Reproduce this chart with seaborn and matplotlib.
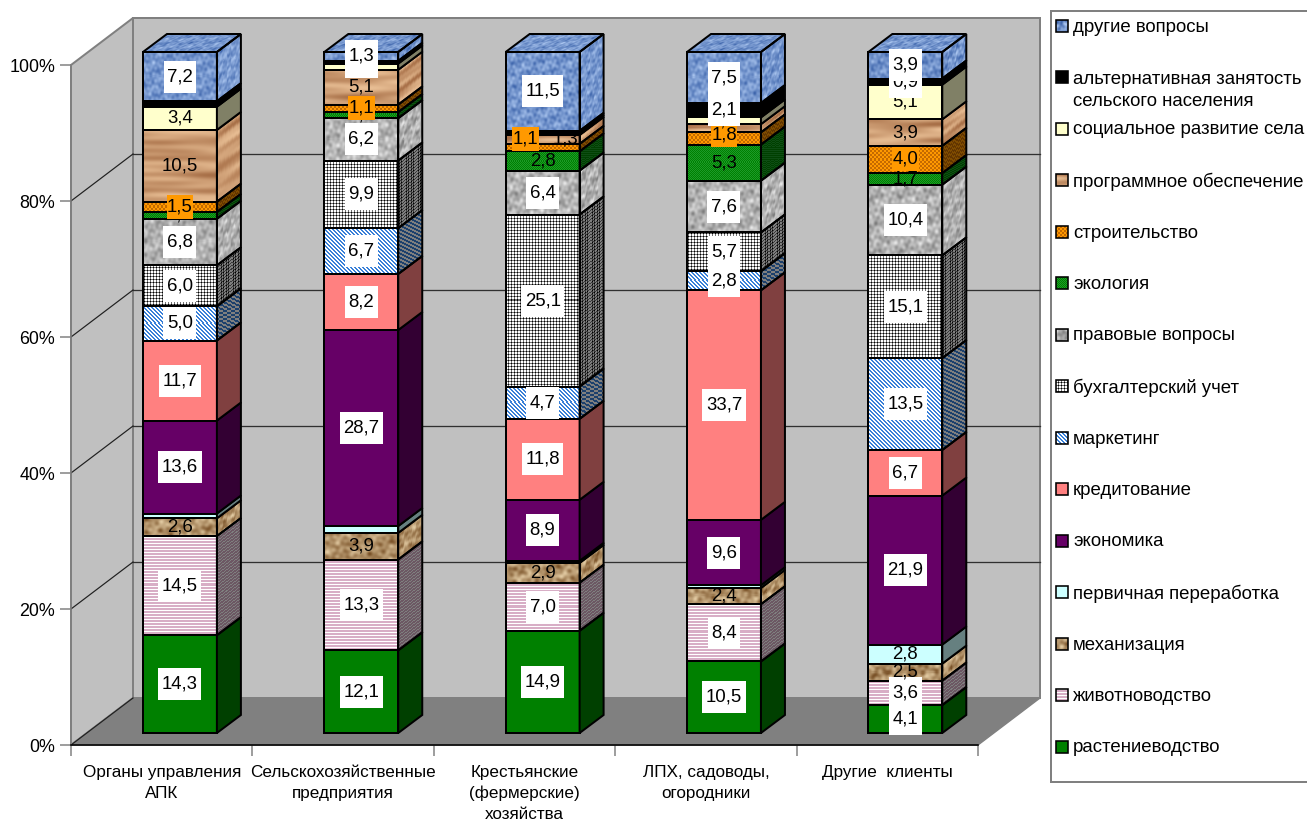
import numpy as np
import pandas as pd
import seaborn as sns
import matplotlib
matplotlib.use("Agg")
import matplotlib.pyplot as plt
from matplotlib.image import AxesImage
from matplotlib.patches import Polygon, Rectangle
from matplotlib.path import Path
from matplotlib.transforms import Affine2D, IdentityTransform

# ---- data (per cent of enquiries by client group) ----
categories = ["Органы управления\nАПК", "Сельскохозяйственные\nпредприятия",
              "Крестьянские\n(фермерские)\nхозяйства", "ЛПХ, садоводы,\nогородники",
              "Другие  клиенты"]
series_names = ["растениеводство", "животноводство", "механизация", "первичная переработка",
                "экономика", "кредитование", "маркетинг", "бухгалтерский учет",
                "правовые вопросы", "экология", "строительство", "программное обеспечение",
                "социальное развитие села", "альтернативная занятость\nсельского населения",
                "другие вопросы"]
crop_farming = [14.3, 12.1, 14.9, 10.5, 4.1]
livestock = [14.5, 13.3, 7.0, 8.4, 3.6]
machinery = [2.6, 3.9, 2.9, 2.4, 2.5]
processing = [0.7, 1.0, 0.3, 0.4, 2.8]
economics = [13.6, 28.7, 8.9, 9.6, 21.9]
lending = [11.7, 8.2, 11.8, 33.7, 6.7]
marketing = [5.0, 6.7, 4.7, 2.8, 13.5]
accounting = [6.0, 9.9, 25.1, 5.7, 15.1]
legal = [6.8, 6.2, 6.4, 7.6, 10.4]
ecology = [1.0, 0.9, 2.8, 5.3, 1.7]
building = [1.5, 1.1, 1.1, 1.8, 4.0]
software = [10.5, 5.1, 1.3, 1.2, 3.9]
social = [3.4, 0.9, 0.3, 1.0, 5.1]
alt_jobs = [0.8, 0.4, 0.3, 2.1, 0.9]
other = [7.2, 1.3, 11.5, 7.5, 3.9]
series_values = [crop_farming, livestock, machinery, processing, economics, lending, marketing,
                 accounting, legal, ecology, building, software, social, alt_jobs, other]
# segments printed without a value: (series index, column index)
unlabelled = {(3, 0), (3, 1), (3, 2), (3, 3), (12, 2), (13, 0), (13, 2)}
# value labels nudged off a crowded segment: pixels right, pixels up
label_shift = {(10, 2): (-17, 9), (11, 2): (23, 0), (10, 3): (0, 3)}

# ---- styling ----
plt.rcParams["font.family"] = ["Liberation Sans", "DejaVu Sans"]
W, H = 1307, 821
GREY = "#808080"
WALL = "#C0C0C0"
EDGE_PX = 2.0
px = 0.72  # points per pixel at 100 dpi


def mottle(h, w, x0, y0, fx, fy):
    """Smooth deterministic surface in 0..1 built from a handful of sine waves."""
    yy, xx = np.mgrid[0:h, 0:w]
    xx = xx + x0
    yy = yy + y0
    out = np.zeros((h, w))
    for k in range(1, 10):
        a = k * 2.399963
        scale = 0.55 + 0.33 * k
        out += np.sin(2 * np.pi * (xx * fx * scale * np.cos(a) + yy * fy * scale * np.sin(a)) + k * 1.7) / scale**0.5
    out = (out - out.min()) / max(np.ptp(out), 1e-9)
    return out


def ramp(t, lo, hi):
    lo = np.array(matplotlib.colors.to_rgb(lo))
    hi = np.array(matplotlib.colors.to_rgb(hi))
    return lo + (hi - lo) * t[..., None]


def two_tone(mask, a, b):
    return ramp(mask.astype(float), b, a)


def tex_wood(h, w, x0, y0):
    return ramp(mottle(h, w, x0, y0, 0.004, 0.05), "#A87048", "#E8BE94")


def tex_marble(h, w, x0, y0):
    return ramp(mottle(h, w, x0, y0, 0.045, 0.06), "#7A5228", "#E0C8A0")


def tex_tissue(h, w, x0, y0):
    return ramp(mottle(h, w, x0, y0, 0.07, 0.07), "#3F66AC", "#A9C4EE")


def tex_granite(h, w, x0, y0):
    return ramp(mottle(h, w, x0, y0, 0.06, 0.06), "#7E7E7E", "#E6E6E6")


def tex_stripes(h, w, x0, y0):
    yy, xx = np.mgrid[0:h, 0:w]
    return two_tone((yy + y0) % 3 < 2, "#D8AEC6", "#FFFFFF")


def tex_grid(h, w, x0, y0):
    yy, xx = np.mgrid[0:h, 0:w]
    col = (xx + x0) % 3 == 0
    row = (yy + y0) % 3 == 0
    out = np.ones((h, w, 3))
    out[col | row] = 0.45
    out[col & row] = 0.0
    return out


def tex_diag(h, w, x0, y0):
    yy, xx = np.mgrid[0:h, 0:w]
    return two_tone((xx + yy + x0 + y0) % 4 < 2, "#3A80D8", "#FFFFFF")


def tex_speckle(h, w, x0, y0):
    yy, xx = np.mgrid[0:h, 0:w]
    return two_tone((xx + yy) % 2 == 0, "#008000", "#1C9A28")


def tex_weave(h, w, x0, y0):
    yy, xx = np.mgrid[0:h, 0:w]
    return two_tone(((xx // 2 + yy // 2) % 2) == 0, "#FF9900", "#C46A00")


base_colors = ["#008000", "#D8AEC6", "#C09A6C", "#CCFFFF", "#660066", "#FF8080", "#3A80D8", "#FFFFFF",
               "#B0B0B0", "#008000", "#FF9900", "#C99A6D", "#FFFFCC", "#000000", "#6C90C8"]
textures = {1: tex_stripes, 2: tex_marble, 6: tex_diag, 7: tex_grid, 8: tex_granite, 9: tex_speckle,
            10: tex_weave, 11: tex_wood, 14: tex_tissue}
# textures printed on a photo-like fill keep their brightness on the side face
unshaded = {2, 8, 11, 14}
label_bg = {0: "white", 1: "white", 4: "white", 5: "white", 6: "white", 7: "white", 8: "white",
            10: "#FF9900", 13: "white", 14: "white"}


def face_image(ax, tex, origin, u, v, z, shade=1.0, seed=(0, 0)):
    """Paint an array on the parallelogram origin, origin+u, origin+v (display pixels)."""
    origin, u, v = np.asarray(origin, float), np.asarray(u, float), np.asarray(v, float)
    w = max(int(round(np.hypot(*u))), 1)
    h = max(int(round(np.hypot(*v))), 1)
    img = np.clip(tex(h, w, *seed) * shade, 0, 1)
    im = AxesImage(ax, interpolation="nearest", origin="lower", extent=(0, 1, 0, 1), zorder=z)
    im.set_data(img)
    im.set_transform(Affine2D.from_values(u[0], u[1], v[0], v[1], origin[0], origin[1]))
    ax.add_image(im)
    outline = Polygon([origin, origin + u, origin + u + v, origin + v], transform=IdentityTransform())
    im.set_clip_path(outline)
    im.set_clip_box(ax.figure.bbox)


def white_box(x0, y0, width, height, mutation_size):
    """Rectangle of fixed height behind a white value label."""
    cy = y0 + height / 2
    l, r = x0 - 3.5, x0 + width + 3.5
    b, t = cy - 16, cy + 16
    return Path([(l, b), (r, b), (r, t), (l, t), (l, b)], closed=True)


def tight_box(x0, y0, width, height, mutation_size):
    """Narrower rectangle used behind the orange labels."""
    cy = y0 + height / 2
    l, r = x0 - 0.5, x0 + width + 0.5
    b, t = cy - 12, cy + 12
    return Path([(l, b), (r, b), (r, t), (l, t), (l, b)], closed=True)


fig = plt.figure(figsize=(W / 100, H / 100), dpi=100, facecolor="white")


def fig_rect(left, top, right, bottom):
    return [left / W, 1 - bottom / H, (right - left) / W, (bottom - top) / H]


# ---- box of the chart: value axis, category axis, walls and floor ----
frame = fig.add_axes(fig_rect(71, 65, 978, 745), zorder=0)
frame.patch.set_visible(False)
frame.set_xlim(0, 5)
frame.set_ylim(0, 100)
DX, DY = 62, 47
back = frame.transData + Affine2D().translate(DX, DY)
left_pts = frame.transData.transform([(0, 0), (0, 100)])
frame.add_patch(Rectangle((0, 0), 5, 100, transform=back, fc=WALL, ec=GREY, lw=EDGE_PX * px, zorder=0.5,
                          clip_on=False))
frame.add_patch(Polygon([left_pts[0], left_pts[1], left_pts[1] + (DX, DY), left_pts[0] + (DX, DY)],
                        transform=IdentityTransform(), fc=WALL, ec=GREY, lw=EDGE_PX * px, zorder=0.6,
                        clip_on=False))
floor_pts = frame.transData.transform([(0, 0), (5, 0)])
frame.add_patch(Polygon([floor_pts[0], floor_pts[1], floor_pts[1] + (DX, DY), floor_pts[0] + (DX, DY)],
                        transform=IdentityTransform(), fc=GREY, ec=GREY, lw=1, zorder=0.7, clip_on=False))
yticks = [0, 20, 40, 60, 80, 100]
for t in yticks[1:-1]:
    frame.plot([0, 5], [t, t], transform=back, color="#303030", lw=1.3 * px, zorder=0.8, clip_on=False)
for t in yticks[:-1]:
    p = frame.transData.transform((0, t))
    frame.plot([p[0], p[0] + DX], [p[1], p[1] + DY], transform=IdentityTransform(), color="#202020",
               lw=1.2 * px, zorder=0.8, clip_on=False)
sns.despine(ax=frame, top=True, right=True)
frame.spines["left"].set_color(GREY)
frame.spines["left"].set_linewidth(1.5 * px)
frame.spines["bottom"].set_color("black")
frame.spines["bottom"].set_linewidth(1.6 * px)
frame.set_yticks(yticks, [f"{t}%" for t in yticks], fontsize=12.9, color="black")
frame.tick_params(axis="y", length=11 * px, width=1.5 * px, color=GREY, pad=3.5)
frame.set_xticks(range(6), [""] * 6)
frame.tick_params(axis="x", which="major", length=11 * px, width=1.5 * px, color=GREY)
frame.set_xticks(np.arange(5) + 0.5, categories, minor=True, fontsize=12.3, linespacing=1.46)
frame.tick_params(axis="x", which="minor", length=0, pad=14.5)

# ---- front faces of the stacked columns, each column scaled to 100 % ----
ax = fig.add_axes(fig_rect(89.25, 52, 996, 733), zorder=1)
ax.patch.set_visible(False)
table = np.array(series_values, dtype=float)
shares = table / table.sum(axis=0) * 100
frame_df = pd.DataFrame({"category": categories})
bottoms = np.zeros(len(categories))
containers = []
for i, vals in enumerate(shares):
    sns.barplot(data=frame_df.assign(value=vals), x="category", y="value", bottom=bottoms,
                color=base_colors[i], saturation=1, width=74 / 181.5, edgecolor="black",
                linewidth=EDGE_PX * px, errorbar=None, ax=ax, zorder=3)
    containers.append(ax.containers[-1])
    bottoms = bottoms + vals
ax.set_xlim(-0.5, 4.5)
ax.set_ylim(0, 100)
ax.set_autoscale_on(False)
ax.set_axis_off()

# ---- textures, side and top faces ----
DEPTH = np.array([24.0, 18.0])
for i, cont in enumerate(containers):
    tex = textures.get(i)
    base = np.array(matplotlib.colors.to_rgb(base_colors[i]))
    shade = 1.0 if i in unshaded else 0.5
    for j, bar in enumerate(cont):
        bar.set_clip_on(False)
        bar.set_zorder(3)
        (x0, y0), (x1, y1) = ax.transData.transform(
            [(bar.get_x(), bar.get_y()), (bar.get_x() + bar.get_width(), bar.get_y() + bar.get_height())])
        seed = (37 * j + 11 * i, 53 * i + 19 * j)
        front_o, right_o = np.array([x0, y0]), np.array([x1, y0])
        up, across = np.array([0, y1 - y0]), np.array([x1 - x0, 0])
        corners = [right_o, right_o + DEPTH, right_o + DEPTH + up, right_o + up]
        if tex is not None:
            bar.set_facecolor("none")
            face_image(ax, tex, front_o, across, up, 2, seed=seed)
            face_image(ax, tex, right_o, DEPTH, up, 2, shade=shade, seed=(seed[0] + 200, seed[1]))
            ax.add_patch(Polygon(corners, transform=IdentityTransform(), fc="none", ec="black",
                                 lw=EDGE_PX * px, zorder=3, clip_on=False))
        else:
            ax.add_patch(Polygon(corners, transform=IdentityTransform(), fc=base * shade, ec="black",
                                 lw=EDGE_PX * px, zorder=3, clip_on=False))
        if i == len(containers) - 1:
            top_o = np.array([x0, y1])
            face_image(ax, tex, top_o, across, DEPTH, 2, seed=(seed[0], seed[1] + 300))
            ax.add_patch(Polygon([top_o, top_o + across, top_o + across + DEPTH, top_o + DEPTH],
                                 transform=IdentityTransform(), fc="none", ec="black",
                                 lw=EDGE_PX * px, zorder=3, clip_on=False))

# ---- value labels: later series cover earlier ones, orange boxes sit over the wood band ----
for i, cont in enumerate(containers):
    for j, bar in enumerate(cont):
        if (i, j) in unlabelled:
            continue
        bbox = None
        if i in label_bg:
            bbox = dict(boxstyle=tight_box if i == 10 else white_box, fc=label_bg[i], ec="none")
        ax.annotate(f"{series_values[i][j]:.1f}".replace(".", ","),
                    xy=(bar.get_x() + bar.get_width() / 2, bar.get_y() + bar.get_height() / 2),
                    xytext=label_shift.get((i, j), (0, 0)), textcoords="offset pixels",
                    ha="center", va="center", fontsize=13.4, color="black", bbox=bbox,
                    zorder=(21.5 if i == 10 else 10 + i), annotation_clip=False)

# ---- legend panel ----
leg = fig.add_axes(fig_rect(1051, 11, 1330, 782), zorder=2)
leg.set_xlim(1051, 1330)
leg.set_ylim(782, 11)
leg.set_autoscale_on(False)
leg.set_xticks([])
leg.set_yticks([])
for s in leg.spines.values():
    s.set_color(GREY)
    s.set_linewidth(2 * px)
for row, i in enumerate(range(len(series_names) - 1, -1, -1)):
    yc = 26 + 51.5 * row
    key = Rectangle((1056, yc - 6), 12, 12, fc=base_colors[i], ec="black", lw=1.6 * px, zorder=3)
    if i in textures:
        key.set_facecolor("none")
        face_image(leg, textures[i], leg.transData.transform((1056, yc + 6)), (12, 0), (0, 12), 2,
                   seed=(i * 7, i * 3))
    leg.add_patch(key)
    if "\n" in series_names[i]:
        leg.text(1073, yc - 6, series_names[i], ha="left", va="top", fontsize=13.45, linespacing=1.32)
    else:
        leg.text(1073, yc + 1, series_names[i], ha="left", va="center", fontsize=13.45)

fig.savefig("out.png", dpi=100, facecolor="white")
